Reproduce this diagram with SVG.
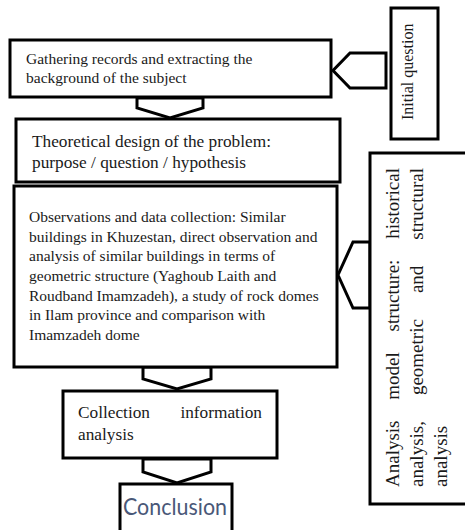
<svg xmlns="http://www.w3.org/2000/svg" width="465" height="530" viewBox="0 0 465 530">
<style>
.box{fill:#fff;stroke:#000;stroke-width:3}
.con{fill:#fff;stroke:#000;stroke-width:3;stroke-linejoin:miter}
.s15{font-size:15.5px}
.s17{font-size:17.3px}
.s19{font-size:19px}
.s16{font-size:16px}
</style>
<rect width="465" height="530" fill="#fff"/>
<g id="connectors">
<polygon class="con" points="137,98 137,108 170,118 203,108 203,98"/>
<polygon class="con" points="143,367 143,379 177,389 211,379 211,367"/>
<polygon class="con" points="143,459 143,472 177,483 211,472 211,459"/>
<polygon class="con" points="386,53 350,53 333,70.5 350,88 386,88"/>
<polygon class="con" points="370,242 353,242 338,275 353,308 370,308"/>
</g>
<g font-family="Liberation Serif, serif" fill="#1a1a1a">
<g id="n1">
<rect class="box" x="10" y="40" width="321" height="57"/>
<text class="s15" x="26" y="64">Gathering records and extracting the</text>
<text class="s15" x="26" y="83">background of the subject</text>
</g>
<g id="n2">
<rect class="box" x="16" y="119" width="324" height="63"/>
<text class="s17" x="32" y="147">Theoretical design of the problem:</text>
<text class="s17" x="32" y="168">purpose / question / hypothesis</text>
</g>
<g id="n3">
<rect class="box" x="14" y="186" width="323" height="181"/>
<text class="s15" x="29" y="222">Observations and data collection: Similar</text>
<text class="s15" x="29" y="241.5">buildings in Khuzestan, direct observation and</text>
<text class="s15" x="29" y="261">analysis of similar buildings in terms of</text>
<text class="s15" x="29" y="281">geometric structure (Yaghoub Laith and</text>
<text class="s15" x="29" y="300.5">Roudband Imamzadeh), a study of rock domes</text>
<text class="s15" x="29" y="320">in Ilam province and comparison with</text>
<text class="s15" x="29" y="340">Imamzadeh dome</text>
</g>
<g id="n4">
<rect class="box" x="63" y="391" width="214" height="67"/>
<text class="s17" x="78" y="418">Collection</text>
<text class="s17" x="262" y="418" text-anchor="end">information</text>
<text class="s17" x="78" y="440">analysis</text>
</g>
<g id="n5">
<rect class="box" x="120" y="484" width="112" height="60"/>
<text x="123" y="515" font-family="Lato, sans-serif" font-size="24" fill="#4a5878" textLength="104" lengthAdjust="spacingAndGlyphs">Conclusion</text>
</g>
<g id="n6">
<rect class="box" x="391" y="8" width="47" height="131"/>
<text class="s16" transform="translate(413,120) rotate(-90)" x="0" y="0">Initial question</text>
</g>
<g id="n7">
<rect class="box" x="370" y="153" width="110" height="351"/>
<g transform="translate(0,487) rotate(-90)">
<text class="s19" x="0" y="399">Analysis</text>
<text class="s19" x="87.3" y="399">model</text>
<text class="s19" x="155.6" y="399">structure:</text>
<text class="s19" x="319" y="399" text-anchor="end">historical</text>
<text class="s19" x="0" y="423">analysis,</text>
<text class="s19" x="91.9" y="423">geometric</text>
<text class="s19" x="193.9" y="423">and</text>
<text class="s19" x="319" y="423" text-anchor="end">structural</text>
<text class="s19" x="0" y="447">analysis</text>
</g>
</g>
</g>
</svg>
